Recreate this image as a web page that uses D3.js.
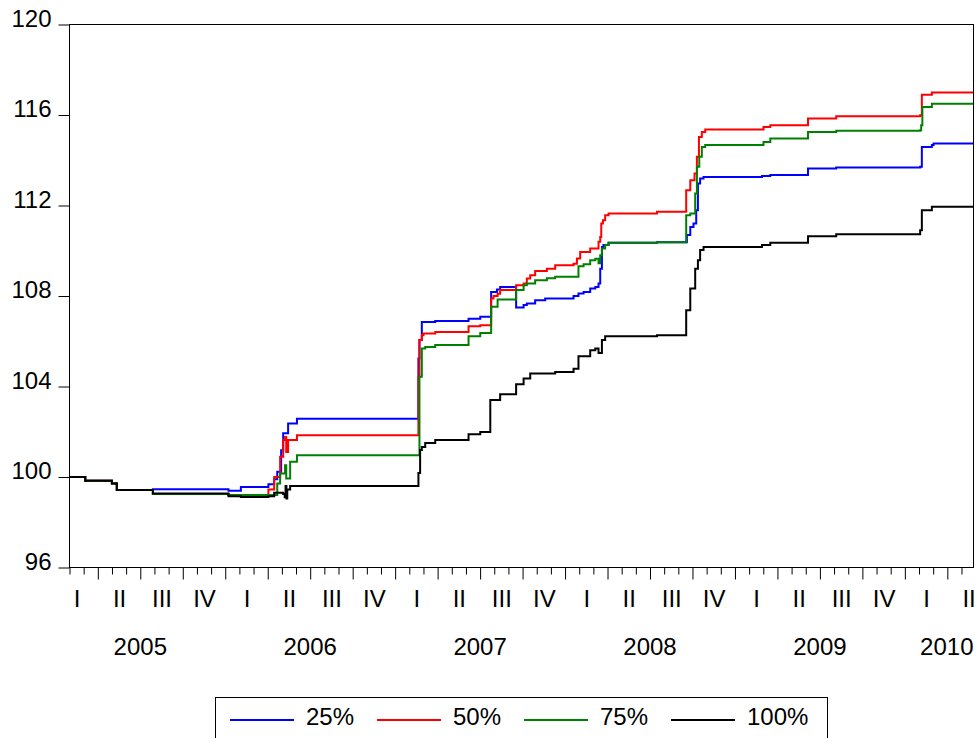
<!DOCTYPE html>
<html>
<head>
<meta charset="utf-8">
<script src="https://cdn.jsdelivr.net/npm/d3@7"></script>
<style>
  html, body { margin: 0; padding: 0; background: #fff; }
  svg { display: block; }
  text { font-family: "Liberation Sans", Arial, sans-serif; fill: #000; }
</style>
</head>
<body>
<svg id="chart" width="976" height="738"></svg>
<script>
// ---- data (time as decimal year, value as index level) ----
const seriesNames = ["25%", "50%", "75%", "100%"];
const seriesColors = ["#0000ff", "#ff0000", "#008000", "#000000"];
const yTicks = [96, 100, 104, 108, 112, 116, 120];
const quarterLabels = ["I", "II", "III", "IV"];
const years = [2005, 2006, 2007, 2008, 2009, 2010];
const startT = 2005 + 1 / 12;
const endT = 2010.404;

const series25 = [
  [2005.083, 100.0], [2005.176, 99.83], [2005.333, 99.71], [2005.362, 99.42],
  [2005.574, 99.46], [2006.019, 99.39], [2006.092, 99.56], [2006.254, 99.68],
  [2006.288, 99.9], [2006.306, 100.23], [2006.329, 101.18], [2006.341, 101.93],
  [2006.370, 102.36], [2006.422, 102.58], [2007.137, 105.24], [2007.143, 106.05],
  [2007.157, 106.85], [2007.236, 106.9], [2007.432, 107.0], [2007.501, 107.08],
  [2007.565, 108.18], [2007.599, 108.29], [2007.618, 108.4], [2007.712, 107.49],
  [2007.756, 107.6], [2007.775, 107.67], [2007.824, 107.81], [2007.883, 107.89],
  [2008.050, 108.0], [2008.079, 108.11], [2008.109, 108.18], [2008.148, 108.33],
  [2008.178, 108.4], [2008.197, 108.55], [2008.207, 109.2], [2008.217, 110.17],
  [2008.226, 110.25], [2008.256, 110.35], [2008.541, 110.38], [2008.717, 110.7],
  [2008.737, 111.05], [2008.756, 111.2], [2008.772, 111.79], [2008.782, 112.97],
  [2008.795, 113.19], [2008.815, 113.26], [2009.159, 113.3], [2009.208, 113.35],
  [2009.430, 113.63], [2009.596, 113.68], [2010.090, 113.71], [2010.100, 114.59],
  [2010.159, 114.67], [2010.169, 114.74], [2010.404, 114.74]
];

const series50 = [
  [2005.083, 100.0], [2005.176, 99.83], [2005.333, 99.71], [2005.362, 99.42],
  [2005.574, 99.25], [2006.019, 99.2], [2006.254, 99.45], [2006.288, 100.0],
  [2006.323, 100.89], [2006.341, 101.63], [2006.352, 101.77], [2006.359, 101.1],
  [2006.370, 101.63], [2006.422, 101.85], [2007.137, 104.43], [2007.143, 106.05],
  [2007.157, 106.27], [2007.167, 106.34], [2007.236, 106.41], [2007.432, 106.66],
  [2007.501, 106.71], [2007.565, 107.89], [2007.579, 108.0], [2007.603, 108.1],
  [2007.618, 108.26], [2007.712, 108.48], [2007.756, 108.55], [2007.775, 108.77],
  [2007.795, 108.92], [2007.824, 109.11], [2007.893, 109.2], [2007.942, 109.36],
  [2008.050, 109.43], [2008.070, 109.66], [2008.089, 109.95], [2008.148, 110.1],
  [2008.197, 110.4], [2008.207, 110.61], [2008.213, 111.2], [2008.223, 111.35],
  [2008.236, 111.57], [2008.256, 111.65], [2008.541, 111.72], [2008.713, 112.67],
  [2008.737, 113.12], [2008.762, 113.41], [2008.776, 114.15], [2008.788, 115.03],
  [2008.805, 115.25], [2008.825, 115.36], [2009.168, 115.47], [2009.208, 115.55],
  [2009.430, 115.85], [2009.596, 115.95], [2010.090, 115.99], [2010.100, 116.9],
  [2010.159, 116.99], [2010.404, 116.99]
];

const series75 = [
  [2005.083, 100.0], [2005.176, 99.83], [2005.333, 99.71], [2005.362, 99.42],
  [2005.574, 99.25], [2006.019, 99.2], [2006.306, 99.71], [2006.323, 100.16],
  [2006.352, 100.52], [2006.359, 99.93], [2006.382, 100.67], [2006.422, 100.96],
  [2007.143, 104.43], [2007.157, 105.68], [2007.177, 105.75], [2007.236, 105.83],
  [2007.432, 106.22], [2007.501, 106.37], [2007.565, 107.52], [2007.603, 107.85],
  [2007.712, 108.26], [2007.756, 108.48], [2007.775, 108.55], [2007.824, 108.7],
  [2007.893, 108.78], [2007.942, 108.85], [2008.079, 109.32], [2008.109, 109.4],
  [2008.148, 109.58], [2008.178, 109.65], [2008.197, 109.45], [2008.207, 109.8],
  [2008.217, 110.1], [2008.236, 110.25], [2008.256, 110.35], [2008.541, 110.38],
  [2008.713, 111.57], [2008.737, 111.65], [2008.766, 112.53], [2008.776, 113.71],
  [2008.790, 114.15], [2008.805, 114.59], [2008.825, 114.67], [2009.168, 114.81],
  [2009.208, 114.96], [2009.430, 115.25], [2009.596, 115.3], [2010.090, 115.33],
  [2010.096, 115.55], [2010.103, 116.35], [2010.159, 116.5], [2010.404, 116.5]
];

const series100 = [
  [2005.083, 100.0], [2005.176, 99.83], [2005.333, 99.71], [2005.362, 99.42],
  [2005.574, 99.27], [2006.019, 99.15], [2006.092, 99.12], [2006.254, 99.15],
  [2006.288, 99.3], [2006.341, 99.25], [2006.350, 99.1], [2006.355, 99.6],
  [2006.360, 99.05], [2006.365, 99.45], [2006.382, 99.6], [2007.137, 100.18],
  [2007.147, 101.19], [2007.157, 101.33], [2007.177, 101.5], [2007.236, 101.63],
  [2007.432, 101.89], [2007.501, 101.99], [2007.560, 103.4], [2007.618, 103.66],
  [2007.712, 104.1], [2007.756, 104.35], [2007.795, 104.57], [2007.942, 104.64],
  [2008.050, 104.79], [2008.079, 105.34], [2008.148, 105.6], [2008.178, 105.68],
  [2008.197, 105.48], [2008.217, 106.05], [2008.236, 106.22], [2008.541, 106.26],
  [2008.713, 107.37], [2008.737, 108.33], [2008.766, 109.2], [2008.782, 109.58],
  [2008.795, 110.03], [2008.815, 110.17], [2009.159, 110.25], [2009.208, 110.35],
  [2009.430, 110.64], [2009.596, 110.73], [2010.090, 110.91], [2010.100, 111.79],
  [2010.159, 111.94], [2010.404, 111.94]
];

const allSeries = [series25, series50, series75, series100];

// ---- layout ----
const svg = d3.select("#chart");
const pLeft = 69.5, pRight = 973.5, pTop = 24.5, pBottom = 567.5;
const FONT = 24;

const x = d3.scaleLinear().domain([startT, endT]).range([pLeft, pRight]);
const y = d3.scaleLinear().domain([96, 120]).range([pBottom, pTop]);

// clip
svg.append("defs").append("clipPath").attr("id", "plotclip")
  .append("rect").attr("x", pLeft).attr("y", pTop - 2)
  .attr("width", pRight - pLeft).attr("height", pBottom - pTop + 2);

// lines
const line = d3.line()
  .x(d => x(d[0])).y(d => y(d[1]))
  .curve(d3.curveStepAfter);

const g = svg.append("g").attr("clip-path", "url(#plotclip)");
allSeries.forEach((s, i) => {
  g.append("path").datum(s)
    .attr("d", line)
    .attr("fill", "none")
    .attr("stroke", seriesColors[i])
    .attr("stroke-width", 2)
    .attr("stroke-linejoin", "miter");
});

// frame
svg.append("rect")
  .attr("x", pLeft).attr("y", pTop)
  .attr("width", pRight - pLeft).attr("height", pBottom - pTop)
  .attr("fill", "none").attr("stroke", "#000").attr("stroke-width", 1);

// y axis
const yAxis = d3.axisLeft(y).tickValues(yTicks).tickSize(11).tickPadding(7)
  .tickFormat(d3.format("d"));
const yg = svg.append("g").attr("transform", `translate(${pLeft},0)`).call(yAxis);
yg.select(".domain").remove();
yg.selectAll(".tick line").attr("stroke", "#000");
yg.selectAll(".tick text")
  .attr("font-size", FONT)
  .attr("font-family", "Liberation Sans, Arial, sans-serif")
  .attr("dy", "0.08em");

// x axis: month ticks and quarter ticks
const monthTicks = [];
const quarterTicks = [];
for (let m = 1; ; m++) {
  const t = 2005 + m / 12;
  if (t > endT + 1e-9) break;
  if (m % 3 === 0) quarterTicks.push(t); else monthTicks.push(t);
}
const xMinor = d3.axisBottom(x).tickValues(monthTicks).tickSize(7).tickFormat("");
const xg1 = svg.append("g").attr("transform", `translate(0,${pBottom})`).call(xMinor);
xg1.select(".domain").remove();
xg1.selectAll(".tick line").attr("stroke", "#000");

const xMajor = d3.axisBottom(x).tickValues(quarterTicks).tickSize(12).tickFormat("");
const xg2 = svg.append("g").attr("transform", `translate(0,${pBottom})`).call(xMajor);
xg2.select(".domain").remove();
xg2.selectAll(".tick line").attr("stroke", "#000");

// quarter labels
const quarterCenters = [];
years.forEach(yr => {
  for (let q = 0; q < 4; q++) {
    const c = yr + q / 4 + 1 / 8;
    if (yr + q / 4 < endT) quarterCenters.push(c);
  }
});
const xQ = d3.axisBottom(x).tickValues(quarterCenters).tickSize(0).tickPadding(0)
  .tickFormat(d => quarterLabels[Math.round((d - Math.floor(d) - 0.125) * 4)]);
const xg3 = svg.append("g").attr("transform", `translate(0,${pBottom})`).call(xQ);
xg3.select(".domain").remove();
xg3.selectAll(".tick text")
  .attr("font-size", FONT)
  .attr("font-family", "Liberation Sans, Arial, sans-serif")
  .attr("y", 39).attr("dy", 0);

// year labels
years.forEach(yr => {
  const cx = x(yr + 0.5);
  const t = svg.append("text")
    .attr("font-size", FONT)
    .attr("y", 655)
    .text(String(yr));
  const w = t.node().getComputedTextLength();
  if (cx + w / 2 > pRight) {
    t.attr("x", pRight).attr("text-anchor", "end");
  } else {
    t.attr("x", cx).attr("text-anchor", "middle");
  }
});

// legend
const lg = svg.append("g");
lg.append("rect")
  .attr("x", 215.5).attr("y", 697.5)
  .attr("width", 612).attr("height", 50)
  .attr("fill", "#fff").attr("stroke", "#000").attr("stroke-width", 1);
seriesNames.forEach((name, i) => {
  const lx = 230 + i * 147;
  lg.append("line")
    .attr("x1", lx).attr("x2", lx + 64)
    .attr("y1", 720).attr("y2", 720)
    .attr("stroke", seriesColors[i]).attr("stroke-width", 2);
  lg.append("text")
    .attr("x", lx + 76).attr("y", 724.5)
    .attr("font-size", FONT)
    .text(name);
});
</script>
</body>
</html>
